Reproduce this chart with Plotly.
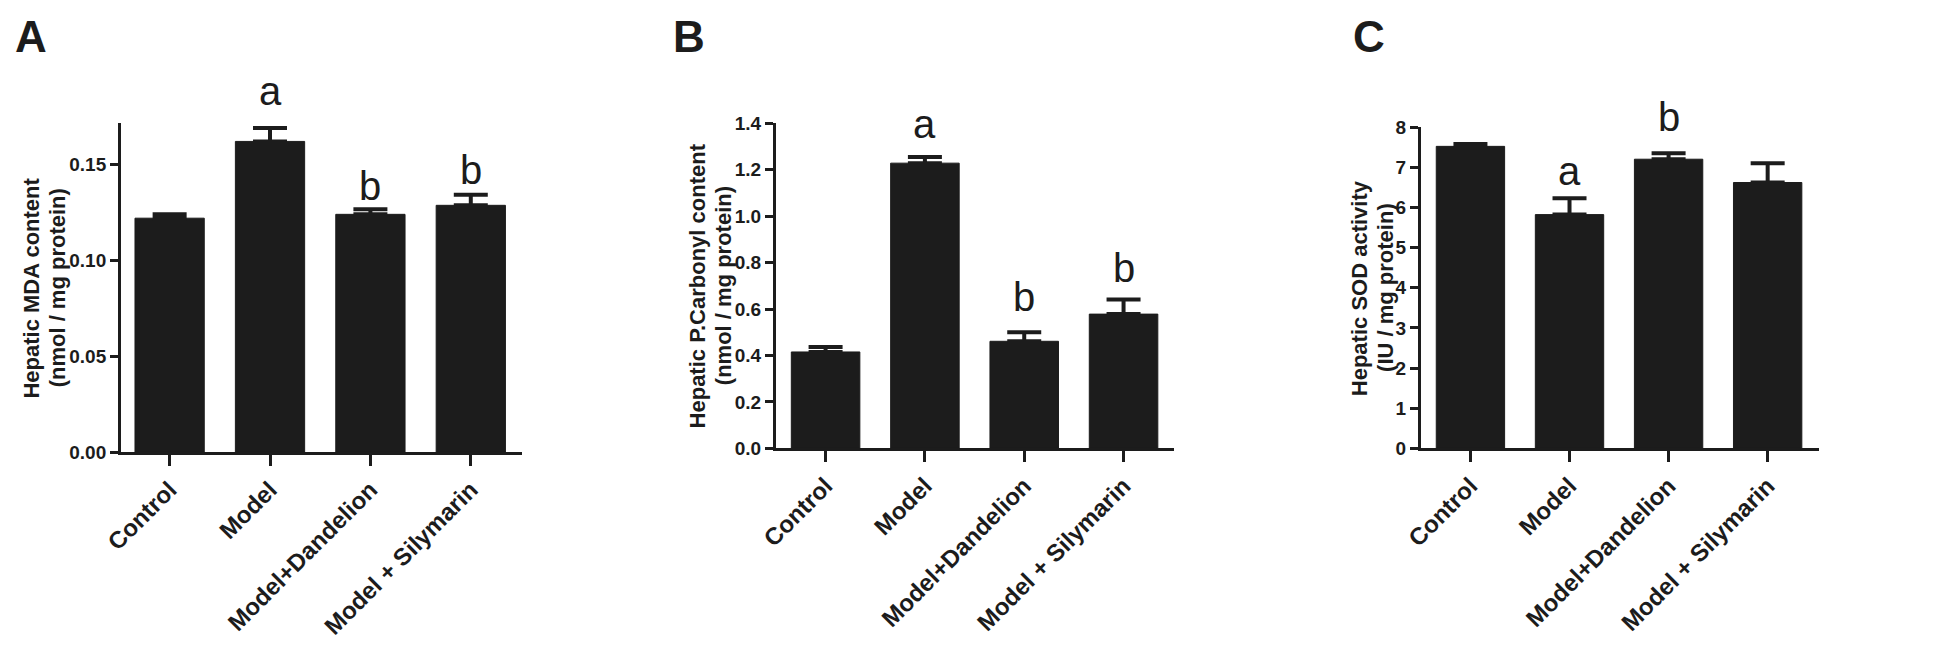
import plotly.graph_objects as go

categories = ["Control", "Model", "Model+Dandelion", "Model + Silymarin"]

mda_mean = [0.122, 0.162, 0.124, 0.1287]
mda_sem = [0.002, 0.007, 0.0027, 0.0055]

carbonyl_mean = [0.415, 1.228, 0.461, 0.578]
carbonyl_sem = [0.021, 0.027, 0.039, 0.063]

sod_mean = [7.52, 5.82, 7.20, 6.62]
sod_sem = [0.06, 0.41, 0.15, 0.48]

mda_letters = ["", "a", "b", "b"]
carbonyl_letters = ["", "a", "b", "b"]
sod_letters = ["", "a", "b", ""]

W, H = 1946, 649
FONT = "Liberation Sans, Arial, sans-serif"
INK = "#1c1c1c"

panels = [
    dict(key="A", mean=mda_mean, sem=mda_sem, letters=mda_letters,
         yrange=[0, 0.1715], dtick=0.05, fmt=".2f",
         x0=104, x1=509, xr=[-0.484, 3.513], y0=457, ytop=117,
         title1="Hepatic MDA content", title2="(nmol / mg protein)",
         tx1=14, tx2=40, lab=(-5, 27), lshift=[0, 20, 6, 8]),
    dict(key="B", mean=carbonyl_mean, sem=carbonyl_sem, letters=carbonyl_letters,
         yrange=[0, 1.4], dtick=0.2, fmt=".1f",
         x0=765, x1=1167, xr=[-0.5, 3.51], y0=453, ytop=117,
         title1="Hepatic P.Carbonyl content", title2="(nmol / mg protein)",
         tx1=686, tx2=712, lab=(659, 27), lshift=[0, 16, 18, 14]),
    dict(key="C", mean=sod_mean, sem=sod_sem, letters=sod_letters,
         yrange=[0, 8], dtick=1, fmt="d",
         x0=1416, x1=1818, xr=[-0.5, 3.52], y0=453, ytop=121,
         title1="Hepatic SOD activity", title2="(IU / mg protein)",
         tx1=1354, tx2=1380, lab=(1345, 27), lshift=[0, 10, 19, 0]),
]

fig = go.Figure()
annotations = []

for i, p in enumerate(panels):
    n = "" if i == 0 else str(i + 1)
    xa, ya = "x" + n, "y" + n
    fig.add_trace(go.Bar(
        x=list(range(len(categories))), y=p["mean"],
        width=0.69,
        marker=dict(color=INK, line=dict(color=INK, width=1)),
        error_y=dict(type="data", symmetric=False, array=p["sem"],
                     arrayminus=[0] * len(categories),
                     color=INK, thickness=4, width=17),
        xaxis=xa, yaxis=ya, showlegend=False, hoverinfo="skip",
    ))
    xd = [p["x0"] / W, p["x1"] / W]
    yd = [(H - p["y0"]) / H, (H - p["ytop"]) / H]
    axis_common = dict(showline=True, linecolor=INK, linewidth=3,
                       ticks="outside", tickcolor=INK, showgrid=False,
                       zeroline=False, mirror=False)
    fig.layout["xaxis" + n] = dict(
        domain=xd, range=p["xr"], anchor=ya,
        tickmode="array", tickvals=list(range(len(categories))),
        ticktext=[f"<b>{c}</b>" for c in categories],
        tickangle=-45, ticklen=11, tickwidth=2.5,
        tickfont=dict(family=FONT, size=24, color=INK),
        **axis_common)
    fig.layout["yaxis" + n] = dict(
        domain=yd, range=p["yrange"], anchor=xa, dtick=p["dtick"],
        tick0=0, tickformat=p["fmt"], ticklen=8, tickwidth=2.5,
        tickprefix="<b>", ticksuffix="</b>",
        tickfont=dict(family=FONT, size=19, color=INK),
        **axis_common)

    ymid = 1 - ((p["y0"] + p["ytop"]) / 2) / H
    for tx, txt in ((p["tx1"], p["title1"]), (p["tx2"], p["title2"])):
        annotations.append(dict(
            text=f"<b>{txt}</b>", x=tx / W, y=ymid, xref="paper", yref="paper",
            xanchor="center", yanchor="middle", textangle=-90, showarrow=False,
            font=dict(family=FONT, size=22, color=INK)))
    annotations.append(dict(
        text=f"<b>{p['key']}</b>", x=p["lab"][0] / W, y=1 - p["lab"][1] / H,
        xref="paper", yref="paper", xanchor="left", yanchor="middle",
        showarrow=False, font=dict(family=FONT, size=44, color=INK)))
    for j, letter in enumerate(p["letters"]):
        if not letter:
            continue
        annotations.append(dict(
            text=letter, x=j, y=p["mean"][j] + p["sem"][j], xref=xa, yref=ya,
            xanchor="center", yanchor="bottom", showarrow=False,
            yshift=p["lshift"][j] - 7,
            font=dict(family=FONT, size=40, color=INK)))

fig.update_layout(
    width=W, height=H, margin=dict(l=0, r=0, t=0, b=0),
    paper_bgcolor="white", plot_bgcolor="white",
    annotations=annotations, bargap=0.3,
)

fig.write_html(
    "out.html",
    config={"displayModeBar": False},
    post_script="document.body.style.margin='0';document.body.style.overflow='hidden';",
)
